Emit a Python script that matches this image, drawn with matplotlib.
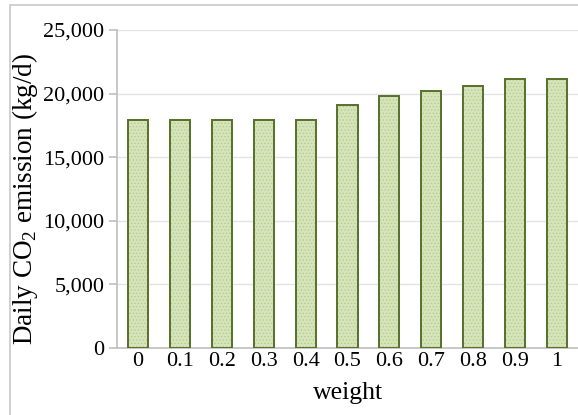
import matplotlib.pyplot as plt
from matplotlib.patches import Rectangle

weights = ['0', '0.1', '0.2', '0.3', '0.4', '0.5', '0.6', '0.7', '0.8', '0.9', '1']
emission = [17950, 17950, 17950, 17950, 17950, 19100, 19800, 20180, 20570, 21170, 21170]

plt.rcParams['font.family'] = ['Liberation Serif', 'DejaVu Serif']
plt.rcParams['mathtext.fontset'] = 'custom'
plt.rcParams['mathtext.rm'] = 'Liberation Serif'
plt.rcParams['hatch.linewidth'] = 0.6

fig = plt.figure(figsize=(5.78, 4.15), dpi=100)
ax = fig.add_axes([117/578, 1-348/415, 461/578, 318/415])

x = list(range(len(weights)))
# fill with dotted pattern, then outline
ax.bar(x, emission, width=0.48, color='#d6e4bb', edgecolor='#b8cc8c',
       hatch='.....', linewidth=0, zorder=3)
ax.bar(x, emission, width=0.48, fill=False, edgecolor='#56702c',
       linewidth=1.4, zorder=4)

ax.set_xlim(-0.5, len(weights) - 0.5)
ax.set_ylim(0, 25000)
ax.set_yticks(range(0, 25001, 5000))
ax.set_yticklabels([f'{v:,}' for v in range(0, 25001, 5000)])
ax.set_xticks(x)
ax.set_xticklabels(weights)

ax.yaxis.grid(True, color='#e3e3e3', linewidth=1, zorder=0)
ax.set_axisbelow(True)
for s in ['top', 'right']:
    ax.spines[s].set_visible(False)
for s in ['left', 'bottom']:
    ax.spines[s].set_color('#bfbfbf')
    ax.spines[s].set_linewidth(1.2)

ax.tick_params(axis='y', length=6, color='#bfbfbf', width=1.2, labelsize=16, pad=3)
ax.tick_params(axis='x', length=0, labelsize=16, pad=3)

ax.set_ylabel('Daily CO$_2$ emission (kg/d)', fontsize=19.5, va='center')
ax.yaxis.set_label_coords(-92/461, (348-199)/318)
ax.set_xlabel('weight', fontsize=18.5, va='center')
ax.xaxis.set_label_coords((348-117)/461, -(393-348)/318)

# outer chart border
fig.patches.append(Rectangle((10/578, -0.05), 1.0, 1 - 5/415 + 0.05,
                             transform=fig.transFigure, fill=False,
                             edgecolor='#c8c8c8', linewidth=1.2))

fig.savefig('out.png', dpi=100)
